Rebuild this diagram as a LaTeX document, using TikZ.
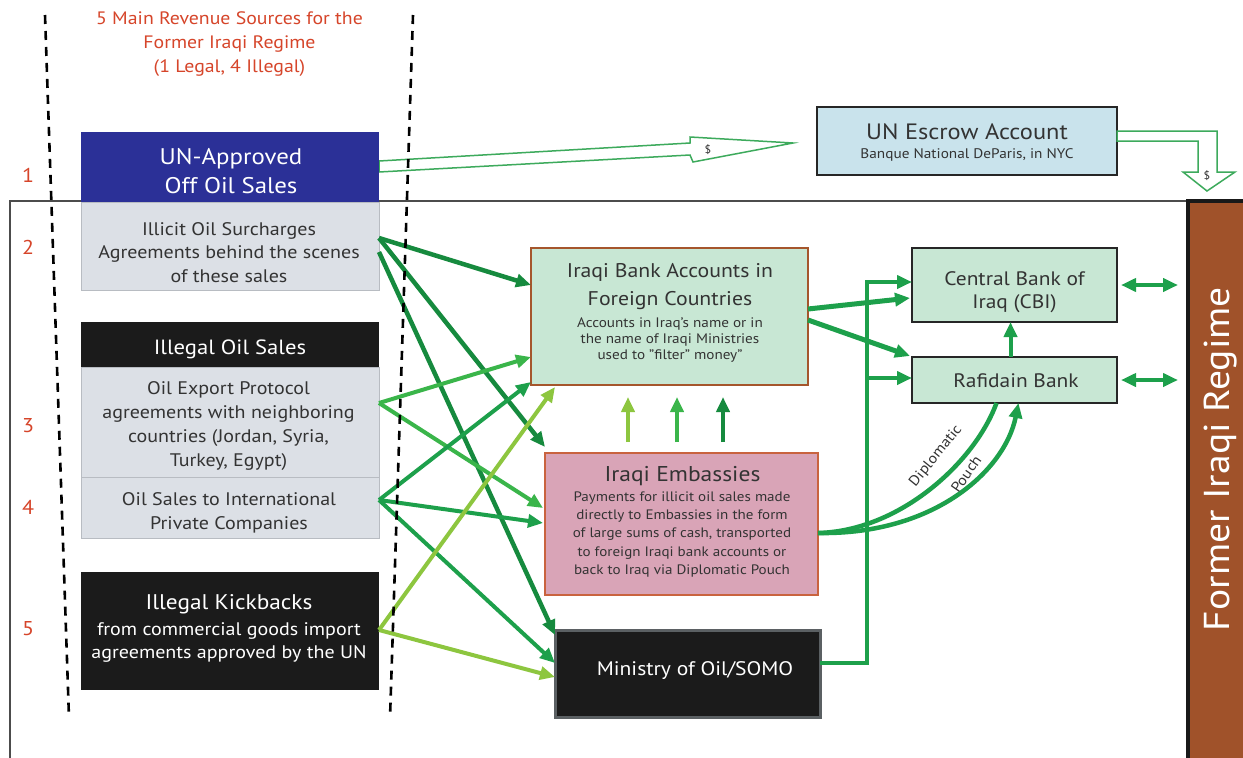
\documentclass[tikz,border=0pt]{standalone}
\usepackage{fontspec}
\setmainfont[FakeStretch=1.1]{PT Sans}
\usetikzlibrary{arrows.meta,calc}
\definecolor{redt}{HTML}{D6452A}
\definecolor{unblue}{HTML}{2B3097}
\definecolor{greybox}{HTML}{DCE0E6}
\definecolor{greyline}{HTML}{B8BCC2}
\definecolor{darkbox}{HTML}{1B1B1B}
\definecolor{somoline}{HTML}{5B6063}
\definecolor{escrowfill}{HTML}{C9E3EC}
\definecolor{mintfill}{HTML}{C8E7D4}
\definecolor{bankline}{HTML}{A5562C}
\definecolor{embfill}{HTML}{D9A4B7}
\definecolor{embline}{HTML}{C9633F}
\definecolor{regimec}{HTML}{A0522A}
\definecolor{gdark}{HTML}{168A3E}
\definecolor{gmid}{HTML}{1DA04B}
\definecolor{gbright}{HTML}{3AB54A}
\definecolor{glight}{HTML}{8DC63F}
\definecolor{hollow}{HTML}{3DAA5C}
\definecolor{textgrey}{HTML}{333333}
\newcommand\myfs[2]{\fontsize{#1pt}{#2pt}\selectfont}
\begin{document}
\begin{tikzpicture}[x=1pt,y=-1pt,
  boxbase/.style={inner sep=0pt,outer sep=0pt,anchor=north west},
  srcgrey/.style={boxbase,fill=greybox,draw=greyline,line width=0.6pt,minimum width=298pt},
  srcdark/.style={boxbase,fill=darkbox,minimum width=298pt},
  mint/.style={boxbase,fill=mintfill,draw=black!85,line width=2.5pt},
  txt/.style={inner sep=0pt,align=center,text=textgrey},
  wtxt/.style={inner sep=0pt,align=center,text=white},
  num/.style={inner sep=0pt,text=redt,font=\myfs{20}{24}},
  flow/.style={line width=4pt,-{Triangle[length=15pt,width=13pt]}},
  dashline/.style={line width=2.6pt,dash pattern=on 9pt off 7pt,black},
  hollowarrow/.style={draw=hollow,fill=white,line width=1.5pt,line join=miter}
]
\useasboundingbox (0,0) rectangle (1243,758);
\fill[white] (0,0) rectangle (1243,758);

% frame
\draw[black!70,line width=1.5pt] (10,760) -- (10,201) -- (1188,201);

% regime bar
\node[boxbase,fill=regimec,draw=black!90,line width=4pt,minimum width=80pt,minimum height=600pt] (regime) at (1188,201) {};
\node[inner sep=0pt,text=white,rotate=90,font=\myfs{36}{40}] (regimetxt) at (1221,459) {Former Iraqi Regime};

% title
\node[inner sep=0pt,align=center,text=redt,font=\myfs{18}{24}] (title) at (229.5,44) {5 Main Revenue Sources for the\\Former Iraqi Regime\\(1 Legal, 4 Illegal)};

% numbers
\node[num] (n1) at (28,175) {1};
\node[num] (n2) at (28,247) {2};
\node[num] (n3) at (28,426) {3};
\node[num] (n4) at (28,507) {4};
\node[num] (n5) at (28,629) {5};

% hollow arrow UN -> escrow (drawn before boxes)
\draw[hollowarrow] (379,161) -- (690,143) -- (690,137) -- (793,143) -- (693,162) -- (690,155) -- (379,172) -- cycle;
\node[inner sep=0pt,text=textgrey,font=\myfs{11}{13}] (dollar1) at (708,150) {\$};

% source boxes
\node[boxbase,fill=unblue,minimum width=298pt,minimum height=70pt] (un) at (81,132) {};
\node[wtxt,font=\myfs{22.6}{29.5}] (untxt) at (231,171) {UN-Approved\\Off Oil Sales};

\node[srcgrey,minimum height=88pt] (illicit) at (81,202) {};
\node[txt,font=\myfs{18.2}{23.5}] (illicittxt) at (229,252.5) {Illicit Oil Surcharges\\Agreements behind the scenes\\of these sales};

\node[srcdark,minimum height=45pt] (hdr) at (81,322) {};
\node[wtxt,font=\myfs{20.6}{25}] (hdrtxt) at (230,349) {Illegal Oil Sales};

\node[srcgrey,minimum height=110pt] (export) at (81,367) {};
\node[txt,font=\myfs{18.2}{24}] (exporttxt) at (228.5,426) {Oil Export Protocol\\agreements with neighboring\\countries (Jordan, Syria,\\Turkey, Egypt)};

\node[srcgrey,minimum height=61pt] (intl) at (81,477) {};
\node[txt,font=\myfs{18.2}{24}] (intltxt) at (229,513) {Oil Sales to International\\Private Companies};

\node[srcdark,minimum height=118pt] (kick) at (81,572) {};
\node[wtxt,font=\myfs{21.2}{26}] (kicktitle) at (229,604) {Illegal Kickbacks};
\node[wtxt,font=\myfs{18.2}{23.5}] (kicktxt) at (229,642.5) {from commercial goods import\\agreements approved by the UN};

% escrow
\node[boxbase,fill=escrowfill,draw=black!85,line width=2.5pt,minimum width=300pt,minimum height=68pt] (escrow) at (817,107) {};
\node[txt,font=\myfs{22.2}{26}] (escrowtitle) at (967,132) {UN Escrow Account};
\node[txt,font=\myfs{13.9}{16}] (escrowsub) at (967,155) {Banque National DeParis, in NYC};

% hollow arrow escrow -> regime
\draw[hollowarrow] (1117,131) -- (1217,131) -- (1217,172) -- (1235,172) -- (1207,191) -- (1183,172) -- (1198,172) -- (1198,141) -- (1117,141) -- cycle;
\node[inner sep=0pt,text=textgrey,font=\myfs{11}{13}] (dollar2) at (1207,176) {\$};

% bank accounts
\node[boxbase,fill=mintfill,draw=bankline,line width=2.8pt,minimum width=277pt,minimum height=137pt] (bank) at (531,248) {};
\node[txt,font=\myfs{19.8}{28}] (banktitle) at (670,287) {Iraqi Bank Accounts in\\Foreign Countries};
\node[txt,font=\myfs{13.8}{16}] (banksub) at (670,340) {Accounts in Iraq's name or in\\the name of Iraqi Ministries\\used to "filter" money"};

% embassies
\node[boxbase,fill=embfill,draw=embline,line width=1.2pt,minimum width=273pt,minimum height=142pt] (emb) at (545,453) {};
\node[txt,font=\myfs{21.4}{26}] (embtitle) at (682.5,476) {Iraqi Embassies};
\node[txt,font=\myfs{13.7}{18.3}] (embsub) at (682,534.5) {Payments for illicit oil sales made\\directly to Embassies in the form\\of large sums of cash, transported\\to foreign Iraqi bank accounts or\\back to Iraq via Diplomatic Pouch};

% ministry
\node[boxbase,fill=darkbox,draw=somoline,line width=3pt,minimum width=265pt,minimum height=87pt] (somo) at (555,630) {};
\node[wtxt,font=\myfs{19.6}{24}] (somotxt) at (695,671) {Ministry of Oil/SOMO};

% central bank and rafidain
\node[mint,minimum width=205pt,minimum height=74pt] (cbi) at (912,248) {};
\node[txt,font=\myfs{19.5}{22.5}] (cbitxt) at (1014.5,292) {Central Bank of\\Iraq (CBI)};
\node[mint,minimum width=205pt,minimum height=46pt] (raf) at (912,357) {};
\node[txt,font=\myfs{19.5}{22}] (raftxt) at (1016,381) {Rafidain Bank};

% flows from sources
\draw[flow,gdark,line width=4.5pt] ($(illicit.east)+(0,-8)$) -- ($(bank.west)+(0,-31.5)$);
\draw[flow,gdark,line width=4.5pt] ($(illicit.east)+(0,-8)$) -- ($(emb.north west)+(0,-6)$);
\draw[flow,gdark,line width=4.5pt] ($(illicit.east)+(0,6)$) -- ($(somo.north west)+(0,5)$);

\draw[flow,gbright] ($(export.east)+(0,-19)$) -- ($(bank.west)+(0,40.5)$);
\draw[flow,gbright] ($(export.east)+(0,-19)$) -- ($(emb.west)+(-2,-16)$);

\draw[flow,gmid] ($(intl.east)+(0,-7.5)$) -- ($(bank.west)+(0,65.5)$);
\draw[flow,gmid] ($(intl.east)+(0,-7.5)$) -- ($(emb.west)+(-2,-1)$);
\draw[flow,gmid] ($(intl.east)+(0,-7.5)$) -- ($(somo.west)+(0,-10.5)$);

\draw[flow,glight] ($(kick.east)+(0,-1)$) -- ($(bank.south west)+(24,2)$);
\draw[flow,glight] ($(kick.east)+(0,-1)$) -- ($(somo.west)+(0,3.5)$);

% up arrows between embassies and bank
\draw[flow,glight] ($(bank.south west)+(97,57)$) -- ($(bank.south west)+(97,12)$);
\draw[flow,gbright] ($(bank.south west)+(146,57)$) -- ($(bank.south west)+(146,12)$);
\draw[flow,gdark] ($(bank.south west)+(192,57)$) -- ($(bank.south west)+(192,12)$);

% bank -> cbi / rafidain
\draw[flow,gmid,line width=5pt] ($(bank.east)+(0,-7.5)$) -- ($(cbi.west)+(-2,13)$);
\draw[flow,gmid,line width=5pt] ($(bank.east)+(0,3.5)$) -- ($(raf.north west)+(-2,-1)$);

% ministry bus
\draw[gmid,line width=4pt,line join=miter] ($(somo.east)+(0,-10.5)$) -| (867,282) coordinate (bustop);
\draw[flow,gmid] ($(bustop)+(-2,0)$) -- ($(cbi.west)+(0,-3)$);
\draw[flow,gmid] (867,378) coordinate (busmid) -- ($(raf.west)+(0,-2)$);

% rafidain -> cbi
\draw[flow,gmid] ($(raf.north)+(-4,0)$) -- ($(cbi.south)+(-4,0)$);

% double arrows to regime
\draw[gmid,line width=4pt,{Triangle[length=15pt,width=13pt]}-{Triangle[length=15pt,width=13pt]}] ($(cbi.east)+(4,0)$) -- ($(cbi.east)+(61,0)$);
\draw[gmid,line width=4pt,{Triangle[length=15pt,width=13pt]}-{Triangle[length=15pt,width=13pt]}] ($(raf.east)+(4,0)$) -- ($(raf.east)+(61,0)$);

% diplomatic pouch
\draw[gmid,line width=4.5pt] ($(emb.east)+(0,9)$) .. controls (900,531) and (975,462) .. ($(raf.south)+(-18,0)$);
\draw[flow,gmid,line width=4.5pt] ($(emb.east)+(0,9)$) .. controls (935,535) and (1005,470) .. ($(raf.south)+(4,0)$);
\node[inner sep=0pt,rotate=51,text=textgrey,font=\myfs{14.5}{16}] (dipl) at (936,456) {Diplomatic};
\node[inner sep=0pt,rotate=55,text=textgrey,font=\myfs{14.5}{16}] (pouch) at (966,474) {Pouch};

% dashed guide lines
\draw[dashline] (45,15) -- (69,718);
\draw[dashline] (413,15) -- (390,718);
\end{tikzpicture}
\end{document}
